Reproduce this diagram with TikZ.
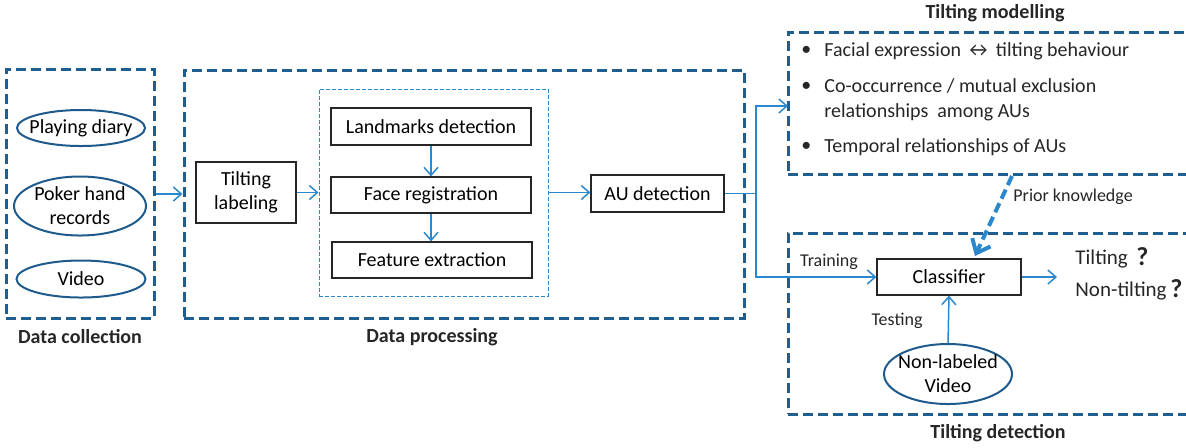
\documentclass[tikz,border=0pt]{standalone}
\usepackage{fontspec}
\setmainfont{Carlito}
\usetikzlibrary{arrows.meta,calc,shapes.geometric}
\definecolor{boxblue}{HTML}{1F5F8F}
\definecolor{arrblue}{HTML}{2B88CC}
\definecolor{ellblue}{HTML}{1F5A8C}
\tikzset{
  bigbox/.style={draw=boxblue,line width=1.5pt,dash pattern=on 5pt off 2.5pt,inner sep=0pt},
  innerbox/.style={draw=arrblue,line width=0.5pt,dash pattern=on 2pt off 1pt,inner sep=0pt},
  procbox/.style={draw=black!85,line width=0.6pt,fill=white,inner sep=0pt,align=center,font=\fontsize{10}{12}\selectfont},
  ellnode/.style={draw=ellblue,line width=1pt,ellipse,inner xsep=-10pt,inner ysep=-5pt,align=center,font=\fontsize{10}{12}\selectfont},
  arr/.style={draw=arrblue,line width=0.75pt,-{Straight Barb[length=4pt,width=7pt,line width=0.75pt]}},
  ln/.style={draw=arrblue,line width=0.75pt},
  title/.style={font=\bfseries\fontsize{10}{12}\selectfont,text=black!85},
  lab/.style={font=\fontsize{9}{11}\selectfont,text=black!85},
  btext/.style={font=\fontsize{10}{12.5}\selectfont,text=black!85,anchor=west,align=left,inner sep=0pt},
}
\begin{document}
\begin{tikzpicture}[x=0.5pt,y=-0.5pt]
\useasboundingbox (0,0) rectangle (1186,447);
% big dashed boxes
\node[bigbox,minimum width=74pt,minimum height=124.5pt] (dc) at (80,193.5) {};
\node[bigbox,minimum width=280pt,minimum height=124pt] (dp) at (464,194) {};
\node[innerbox,minimum width=114.5pt,minimum height=103.5pt] (inner) at (433.5,192.5) {};
\node[bigbox,minimum width=206pt,minimum height=71pt] (tm) at (994,103) {};
\node[bigbox,minimum width=206pt,minimum height=90.5pt] (td) at (994,323.5) {};
% titles
\node[title] (tdc) at (80,337) {Data collection};
\node[title] (tdp) at (432,337) {Data processing};
\node[title] (ttm) at (995,13) {Tilting modelling};
\node[title] (ttd) at (998,433) {Tilting detection};
% data collection
\node[ellnode,minimum width=64pt,minimum height=18pt] (diary) at (81,128) {Playing diary};
\node[ellnode,minimum width=66pt,minimum height=29.5pt] (poker) at (80,206) {Poker hand\\records};
\node[ellnode,minimum width=64.5pt,minimum height=18.5pt] (video) at (81,279) {Video};
% processing
\node[procbox,minimum width=50pt,minimum height=30.5pt] (tl) at (246,192.5) {Tilting\\labeling};
\node[procbox,minimum width=100pt,minimum height=18.5pt] (ld) at (431,126.5) {Landmarks detection};
\node[procbox,minimum width=100pt,minimum height=18pt] (fr) at (431,195) {Face registration};
\node[procbox,minimum width=100pt,minimum height=18pt] (fe) at (432,260) {Feature extraction};
\node[procbox,minimum width=66.5pt,minimum height=18.5pt] (au) at (657.5,193.5) {AU detection};
% detection
\node[procbox,minimum width=72pt,minimum height=18pt] (cls) at (949,277) {Classifier};
\node[ellnode,minimum width=64pt,minimum height=30pt] (nlv) at (948,374) {Non-labeled\\Video};
% arrows
\draw[arr] (dc.east |- 0,194) -- (dp.west |- 0,194);
\draw[arr] (tl.east) -- (inner.west);
\draw[arr] (ld.south) -- (fr.north);
\draw[arr] (fr.south) -- (fr.south |- fe.north);
\draw[arr] (inner.east) -- (inner.east -| au.west);
\coordinate (jt) at (756,106);
\coordinate (jm) at (756,193.5);
\coordinate (tmw) at (788,106);
\draw[ln] (au.east) -- (jm);
\draw[arr] (jm) -- (jt) -- (tmw);
\draw[arr] (jm) |- (cls.west);
\draw[arr] (cls.east) -- (1057,277);
\draw[arr] (nlv.north) -- (cls.south);
\coordinate (pk1) at (1012,176);
\coordinate (pk2) at (975,256);
\draw[draw=arrblue,line width=2pt,dash pattern=on 5pt off 2.5pt,-{Straight Barb[length=6pt,width=10pt,line width=2pt]}] (pk1) -- (pk2);
% labels
\node[lab,anchor=west,inner sep=0pt] (pkl) at (1013,197) {Prior knowledge};
\node[lab] (trl) at (829,262) {Training};
\node[lab] (tsl) at (897,321) {Testing};
\node[btext,font=\fontsize{10.5}{12}\selectfont] (r1) at (1075,259) {Tilting};
\node[btext,font=\bfseries\fontsize{13}{14}\selectfont] (q1) at (1136,257) {?};
\node[btext,font=\fontsize{10.5}{12}\selectfont] (r2) at (1075,291) {Non-tilting};
\node[btext,font=\bfseries\fontsize{13}{14}\selectfont] (q2) at (1170,289) {?};
% bullets
\node[btext] (b1) at (801,51) {•};
\node[btext] (t1) at (824,51) {Facial expression ↔ tilting behaviour};
\node[btext] (b2) at (801,87) {•};
\node[btext] (t2) at (824,99.5) {Co-occurrence / mutual exclusion\\relationships\ \ among AUs};
\node[btext] (b3) at (801,147) {•};
\node[btext] (t3) at (824,147) {Temporal relationships of AUs};
\end{tikzpicture}
\end{document}
